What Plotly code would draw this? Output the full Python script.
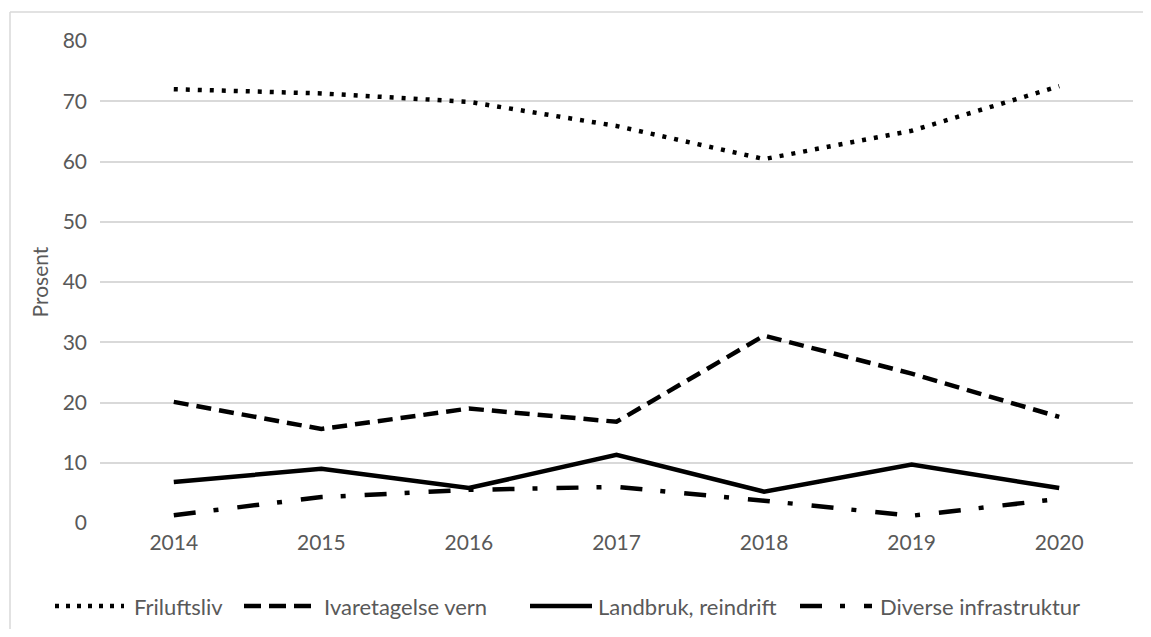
import plotly.graph_objects as go

years = ["2014", "2015", "2016", "2017", "2018", "2019", "2020"]
friluftsliv = [72.0, 71.3, 69.9, 65.9, 60.4, 65.1, 72.5]
ivaretagelse_vern = [20.1, 15.6, 19.0, 16.8, 31.1, 24.8, 17.6]
landbruk_reindrift = [6.8, 9.0, 5.8, 11.3, 5.2, 9.7, 5.8]
diverse_infrastruktur = [1.3, 4.3, 5.5, 6.0, 3.7, 1.2, 4.0]

series = [
    ("Friluftsliv", friluftsliv, "4px,8px"),
    ("Ivaretagelse vern", ivaretagelse_vern, "15px,8px"),
    ("Landbruk, reindrift", landbruk_reindrift, "solid"),
    ("Diverse infrastruktur", diverse_infrastruktur, "22px,18px,5px,19px"),
]

grey = "#595959"
font = "Lato, Open Sans, sans-serif"

# plot area in window pixels (used to place the hand-made legend)
plot_left, plot_top, plot_w, plot_h = 100, 41, 1033, 482


def px_x(x):
    return (x - plot_left) / plot_w


def px_y(y):
    return (plot_top + plot_h - y) / plot_h


fig = go.Figure()
for name, values, dash in series:
    fig.add_trace(
        go.Scatter(
            x=years,
            y=values,
            mode="lines",
            name=name,
            line=dict(color="black", width=4.5, dash=dash),
        )
    )

# legend drawn by hand so the sample lines can be as long as in the original
legend_y = 606
legend_items = [(55, 124, 132), (244, 311, 322), (530, 592, 596), (800, 872, 878)]
legend_dash = ["4px,7px", "17px,8px", "solid", "22px,18px,5px,19px"]
for (name, _, _), (s0, s1, tx), dash in zip(series, legend_items, legend_dash):
    fig.add_shape(
        type="line",
        xref="paper",
        yref="paper",
        x0=px_x(s0),
        x1=px_x(s1),
        y0=px_y(legend_y),
        y1=px_y(legend_y),
        line=dict(color="black", width=4.5, dash=dash),
    )
    fig.add_annotation(
        x=px_x(tx),
        y=px_y(legend_y),
        xref="paper",
        yref="paper",
        text=name,
        showarrow=False,
        xanchor="left",
        yanchor="middle",
        font=dict(size=22, color=grey),
    )

# light frame (top and left edges) around the chart, as in the original
frame = dict(type="line", xref="paper", yref="paper", line=dict(color="#d9d9d9", width=1.5), layer="below")
fig.add_shape(x0=px_x(10), x1=px_x(1200), y0=px_y(12), y1=px_y(12), **frame)
fig.add_shape(x0=px_x(10), x1=px_x(10), y0=px_y(12), y1=px_y(700), **frame)

# the page body adds an 8px offset on every side, so the figure is made smaller to fit
fig.update_layout(
    width=1135,
    height=621,
    margin=dict(l=92, r=10, t=33, b=106),
    plot_bgcolor="white",
    paper_bgcolor="white",
    font=dict(family=font, size=21, color=grey),
    showlegend=False,
    xaxis=dict(
        type="category",
        range=[-0.5, 6.5],
        showgrid=False,
        zeroline=False,
        showline=False,
        ticks="",
        ticklabelstandoff=5,
        tickfont=dict(size=21, color=grey),
    ),
    yaxis=dict(
        range=[0, 80],
        dtick=10,
        showgrid=True,
        gridcolor="#d9d9d9",
        gridwidth=1.5,
        zeroline=False,
        showline=False,
        ticks="",
        ticklabelstandoff=12,
        tickfont=dict(size=21, color=grey),
        title=dict(text="Prosent", font=dict(size=21, color=grey), standoff=8),
    ),
)

fig.write_html("out.html")
